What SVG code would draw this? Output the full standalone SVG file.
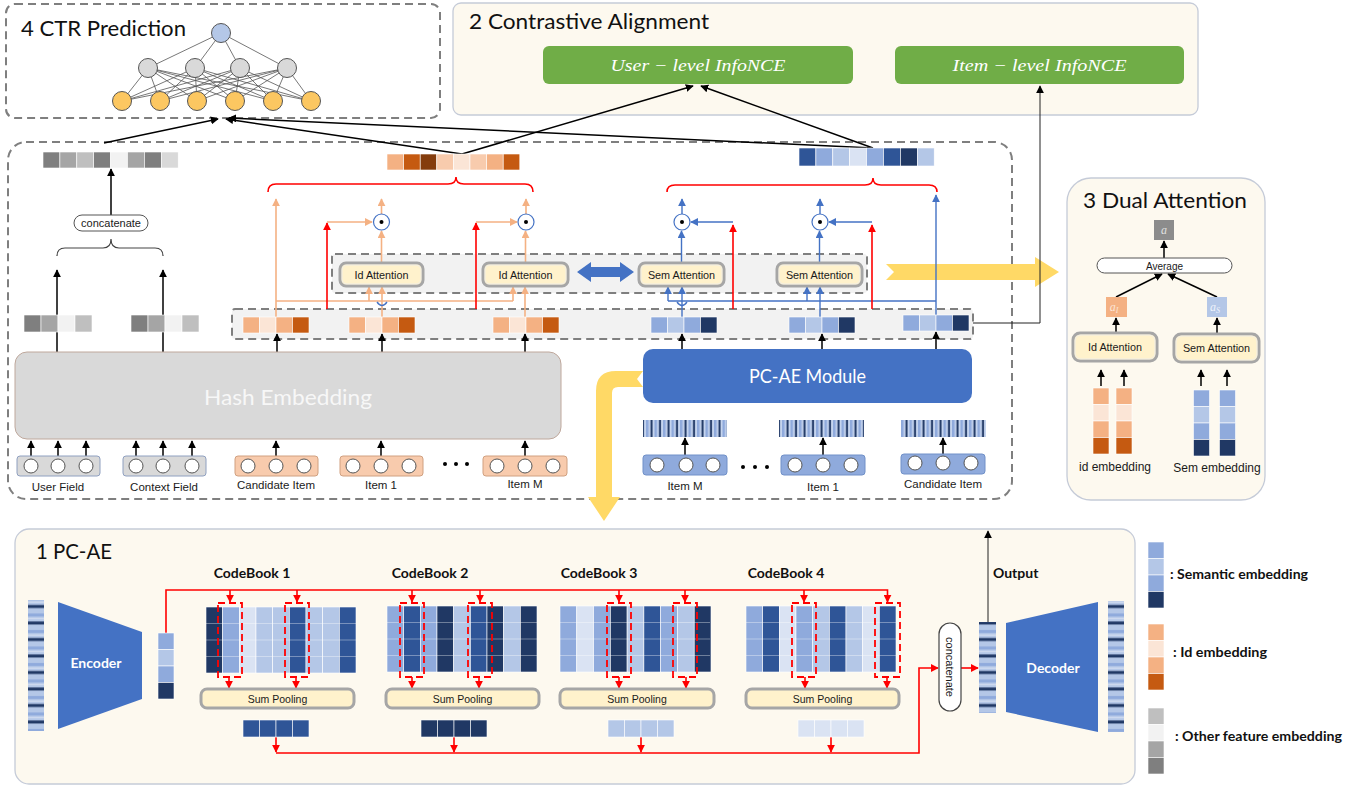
<svg xmlns="http://www.w3.org/2000/svg" width="1367" height="789" viewBox="0 0 1367 789">
<defs>
<style>
.t{font-family:"Liberation Sans",Arial,sans-serif;fill:#1a1a1a}
.c{font-family:Lato,"Open Sans","Liberation Sans",sans-serif}
.title{font-size:21px;fill:#111}
.cb{font-size:14px;font-weight:bold;fill:#111}
.lg{font-size:13.5px;font-weight:bold;fill:#111}
.nce{font-family:"Liberation Serif","DejaVu Serif",serif;font-style:italic;font-size:16px;fill:#fff}
.dash{fill:none;stroke:#7f7f7f;stroke-width:2;stroke-dasharray:8 5}
.dashf{fill:#f2f2f2;stroke:#7f7f7f;stroke-width:2;stroke-dasharray:8 5}
.panel{fill:#fdf9ef;stroke:#c5cbd8;stroke-width:1.3}
.bk{fill:none;stroke:#000;stroke-width:1.5;marker-end:url(#ab)}
.bk1{fill:none;stroke:#222;stroke-width:1;marker-end:url(#ab)}
.or{fill:none;stroke:#f4b183;stroke-width:1.6}
.ora{fill:none;stroke:#f4b183;stroke-width:1.6;marker-end:url(#ao)}
.bl{fill:none;stroke:#4472c4;stroke-width:1.4}
.bla{fill:none;stroke:#4472c4;stroke-width:1.4;marker-end:url(#abl)}
.rd{fill:none;stroke:#f00;stroke-width:1.6}
.rda{fill:none;stroke:#f00;stroke-width:1.6;marker-end:url(#ar)}
.rdash{fill:none;stroke:#f00;stroke-width:1.8;stroke-dasharray:7 4}
.attO{fill:#fff2cc;stroke:#a6a6a6;stroke-width:3}
.attI{fill:none;stroke:#ececec;stroke-width:0.8}
.cell{stroke:#fff;stroke-width:0.6}
.cir{fill:#fff;stroke:#555;stroke-width:1}
.odot{fill:#fff;stroke:#4472c4;stroke-width:1.2}
.nn{stroke:#555;stroke-width:0.8}
.sm{font-size:10.8px}
.lb{font-size:11.5px}
</style>
<marker id="ab" viewBox="0 0 10 10" refX="9" refY="5" markerWidth="8" markerHeight="8" markerUnits="userSpaceOnUse" orient="auto"><path d="M0,0 L10,5 L0,10 z" fill="#000"/></marker>
<marker id="ao" viewBox="0 0 10 10" refX="9" refY="5" markerWidth="8" markerHeight="8" markerUnits="userSpaceOnUse" orient="auto"><path d="M0,0 L10,5 L0,10 z" fill="#f4b183"/></marker>
<marker id="abl" viewBox="0 0 10 10" refX="9" refY="5" markerWidth="8" markerHeight="8" markerUnits="userSpaceOnUse" orient="auto"><path d="M0,0 L10,5 L0,10 z" fill="#4472c4"/></marker>
<marker id="ar" viewBox="0 0 10 10" refX="9" refY="5" markerWidth="8" markerHeight="8" markerUnits="userSpaceOnUse" orient="auto"><path d="M0,0 L10,5 L0,10 z" fill="#f00"/></marker>
<pattern id="vstripe" width="8.5" height="20" patternUnits="userSpaceOnUse"><rect width="8.5" height="20" fill="#c5d4ee"/><rect x="0" width="2.5" height="20" fill="#8faadc"/><rect x="4.5" width="2" height="20" fill="#203864"/></pattern>
<pattern id="hstripe" width="20" height="16.5" patternUnits="userSpaceOnUse"><rect width="20" height="16.5" fill="#b4c7e7"/><rect y="3" width="20" height="3" fill="#8faadc"/><rect y="7.5" width="20" height="1" fill="#dae3f3"/><rect y="11" width="20" height="3" fill="#203864"/></pattern>
<g id="vId4" class="cell"><rect x="0" width="16.5" height="16" fill="#f4b183"/><rect x="16.5" width="16.5" height="16" fill="#fbe5d6"/><rect x="33" width="16.5" height="16" fill="#f4b183"/><rect x="49.5" width="16.5" height="16" fill="#c55a11"/></g>
<g id="vSem4" class="cell"><rect x="0" width="16.5" height="16" fill="#8faadc"/><rect x="16.5" width="16.5" height="16" fill="#b4c7e7"/><rect x="33" width="16.5" height="16" fill="#8faadc"/><rect x="49.5" width="16.5" height="16" fill="#203864"/></g>
<g id="vOth4" class="cell"><rect x="0" width="17" height="17" fill="#7f7f7f"/><rect x="17" width="17" height="17" fill="#a5a5a5"/><rect x="34" width="17" height="17" fill="#f2f2f2"/><rect x="51" width="17" height="17" fill="#bfbfbf"/></g>
<g id="vIdV" class="cell"><rect y="0" width="16" height="16.5" fill="#f4b183"/><rect y="16.5" width="16" height="16.5" fill="#fbe5d6"/><rect y="33" width="16" height="16.5" fill="#f4b183"/><rect y="49.5" width="16" height="16.5" fill="#c55a11"/></g>
<g id="vSemV" class="cell"><rect y="0" width="16" height="16.5" fill="#8faadc"/><rect y="16.5" width="16" height="16.5" fill="#b4c7e7"/><rect y="33" width="16" height="16.5" fill="#8faadc"/><rect y="49.5" width="16" height="16.5" fill="#203864"/></g>
<g id="vOthV" class="cell"><rect y="0" width="16" height="16.5" fill="#bfbfbf"/><rect y="16.5" width="16" height="16.5" fill="#f2f2f2"/><rect y="33" width="16" height="16.5" fill="#a5a5a5"/><rect y="49.5" width="16" height="16.5" fill="#7f7f7f"/></g>
<g id="rows"><path d="M0,16.5 H150 M0,33 H150 M0,49.5 H150" stroke="#fff" stroke-opacity="0.45" stroke-width="0.8"/></g>
</defs>

<rect width="1367" height="789" fill="#fff"/>

<!-- panels -->
<g id="panel-ctr"><rect x="6" y="4" width="434" height="114" rx="9" class="dash"/><text x="21" y="36" class="c title" textLength="165" lengthAdjust="spacingAndGlyphs">4 CTR Prediction</text></g>
<g id="panel-contrastive"><rect x="453" y="3" width="745" height="112" rx="8" class="panel"/><text x="469" y="29" class="c title" textLength="240" lengthAdjust="spacingAndGlyphs">2 Contrastive Alignment</text></g>
<g id="panel-main"><rect x="8" y="142" width="1004" height="357" rx="18" class="dash"/></g>
<g id="panel-dual"><rect x="1067" y="178" width="198" height="322" rx="24" class="panel"/><text x="1083" y="208" class="c title" textLength="164" lengthAdjust="spacingAndGlyphs">3 Dual Attention</text></g>
<g id="panel-pcae"><rect x="15" y="529" width="1120" height="255" rx="14" class="panel"/><text x="36" y="559" class="c title" textLength="76" lengthAdjust="spacingAndGlyphs">1 PC-AE</text></g>

<!-- inner dashed groups -->
<g id="vector-row"><rect x="232" y="309" width="741" height="30" rx="3" class="dashf"/></g>
<g id="attention-row"><rect x="332" y="254" width="535" height="39" rx="3" class="dashf"/></g>

<!-- CTR network -->
<g id="ctr-net">
<g class="nn">
<path d="M221,33 L148,68 M221,33 L195,68 M221,33 L240,68 M221,33 L287,68"/>
<path d="M148,68 L122,101 M148,68 L160,101 M148,68 L197,101 M148,68 L235,101 M148,68 L273,101 M148,68 L311,101"/>
<path d="M195,68 L122,101 M195,68 L160,101 M195,68 L197,101 M195,68 L235,101 M195,68 L273,101 M195,68 L311,101"/>
<path d="M240,68 L122,101 M240,68 L160,101 M240,68 L197,101 M240,68 L235,101 M240,68 L273,101 M240,68 L311,101"/>
<path d="M287,68 L122,101 M287,68 L160,101 M287,68 L197,101 M287,68 L235,101 M287,68 L273,101 M287,68 L311,101"/>
</g>
<circle cx="221" cy="33" r="9.5" fill="#b4c7e7" stroke="#555"/>
<g fill="#d9d9d9" stroke="#555"><circle cx="148" cy="68" r="9.5"/><circle cx="195" cy="68" r="9.5"/><circle cx="240" cy="68" r="9.5"/><circle cx="287" cy="68" r="9.5"/></g>
<g fill="#fcc761" stroke="#555"><circle cx="122" cy="101" r="9.5"/><circle cx="160" cy="101" r="9.5"/><circle cx="197" cy="101" r="9.5"/><circle cx="235" cy="101" r="9.5"/><circle cx="273" cy="101" r="9.5"/><circle cx="311" cy="101" r="9.5"/></g>
</g>

<!-- yellow arrows -->
<g id="yellow-arrows" fill="#ffd966">
<path d="M886,264 L1035,264 L1035,257 L1059,272 L1035,287 L1035,280 L886,280 L894,272 Z"/>
<path d="M643,371 L616,371 Q596,371 596,391 L596,497 L588,497 L604,521 L620,497 L612,497 L612,393 Q612,387 618,387 L643,387 L637,379 Z"/>
</g>

<!-- connectors -->
<g id="connectors">
<path class="bk" d="M104,143 L218,119"/>
<path class="bk" d="M462,154 L226,119"/>
<path class="bk" d="M873,148 L229,118"/>
<path class="bk" d="M462,154 L693,86"/>
<path class="bk" d="M873,148 L701,86"/>
<path class="bk1" d="M973,323 H1040 V86"/>
<path class="bk" d="M57,352 V270"/>
<path class="bk" d="M163,352 V270"/>
<path class="bk" d="M111,215 V169"/>
<path d="M57,256 Q57,248 65,248 L103,248 Q111,248 111,239 Q111,248 119,248 L155,248 Q163,248 163,256" fill="none" stroke="#444" stroke-width="1.2"/>
<path class="rd" d="M268,192 Q268,184 276,184 L448,184 Q456,184 456,177 Q456,184 464,184 L525,184 Q533,184 533,192" stroke-width="1.3"/>
<path class="rd" d="M667,192 Q667,185 675,185 L865,185 Q873,185 873,178 Q873,185 881,185 L929,185 Q937,185 937,192" stroke-width="1.3"/>
<path class="ora" d="M276,317 V199"/>
<path class="or" d="M276,301 H513"/>
<path class="ora" d="M369,301 V287"/>
<path class="ora" d="M513,301 V287"/>
<path class="ora" d="M382,317 V287"/>
<path class="ora" d="M525,317 V287"/>
<path class="ora" d="M381.5,263 V231"/>
<path class="ora" d="M525.5,263 V231"/>
<path class="ora" d="M381.5,214 V199"/>
<path class="ora" d="M526,214 V199"/>
<path class="rda" d="M327,309 V223"/>
<path class="ora" d="M327,222 H372"/>
<path class="rda" d="M476,309 V223"/>
<path class="ora" d="M476,222 H517"/>
<path d="M377,302 Q382,309 387,302" fill="none" stroke="#4472c4" stroke-width="1.3"/>
<path class="bla" d="M936,315 V195"/>
<path class="bl" d="M668,301 H936"/>
<path class="bla" d="M668,301 V287"/>
<path class="bla" d="M807,301 V287"/>
<path class="bla" d="M682,317 V287"/>
<path class="bla" d="M820,317 V287"/>
<path class="bla" d="M681.5,263 V231"/>
<path class="bla" d="M819.5,263 V231"/>
<path class="bla" d="M682,214 V199"/>
<path class="bla" d="M820,214 V199"/>
<path class="rda" d="M733,309 V225"/>
<path class="bla" d="M733,222 H691"/>
<path class="rda" d="M872,309 V225"/>
<path class="bla" d="M872,222 H829"/>
<path d="M677,302 Q682,309 687,302" fill="none" stroke="#4472c4" stroke-width="1.3"/>
<path class="bk" d="M277,352 V334"/>
<path class="bk" d="M382,352 V334"/>
<path class="bk" d="M525,352 V334"/>
<path class="bk" d="M682,349 V334"/>
<path class="bk" d="M822,349 V334"/>
<path class="bk" d="M936,349 V332"/>
<path class="bk" d="M31,459 V441"/><path class="bk" d="M58,459 V441"/><path class="bk" d="M86,459 V441"/>
<path class="bk" d="M136,459 V441"/><path class="bk" d="M163,459 V441"/><path class="bk" d="M192,459 V441"/>
<path class="bk" d="M276,459 V441"/><path class="bk" d="M381,459 V441"/><path class="bk" d="M525,459 V441"/>
<path class="bk" d="M685,457 V438"/><path class="bk" d="M823,457 V438"/><path class="bk" d="M943,457 V438"/>
<path class="bk" d="M1164,258 V241"/>
<path class="bk" d="M1116,297 L1162,274"/>
<path class="bk" d="M1217,297 L1168,274"/>
<path class="bk" d="M1116,333 V318"/>
<path class="bk" d="M1217,334 V318"/>
<path class="bk" d="M1101,386 V370"/><path class="bk" d="M1124,386 V370"/>
<path class="bk" d="M1201,386 V370"/><path class="bk" d="M1227,386 V370"/>
<path class="rda" d="M166,633 V590 H887.5 V602"/>
<path class="rda" d="M230,590 V602"/><path class="rda" d="M297,590 V602"/>
<path class="rda" d="M412,590 V602"/><path class="rda" d="M480,590 V602"/>
<path class="rda" d="M619,590 V602"/><path class="rda" d="M685,590 V602"/>
<path class="rda" d="M804,590 V602"/>
<path class="rda" d="M229,677 V688"/><path class="rda" d="M296,677 V688"/>
<path class="rda" d="M412,677 V688"/><path class="rda" d="M479,677 V688"/>
<path class="rda" d="M619,677 V688"/><path class="rda" d="M686,677 V688"/>
<path class="rda" d="M805,677 V688"/><path class="rda" d="M887,677 V688"/>
<path class="rda" d="M276,737 V752"/><path class="rda" d="M454,737 V752"/>
<path class="rda" d="M641,737 V752"/><path class="rda" d="M831,737 V752"/>
<path class="rda" d="M276,753 H919 V668 H938"/>
<path class="rda" d="M961,668 H978"/>
<path class="bk1" d="M988,622 V531"/>
</g>

<!-- top aggregated vectors -->
<g id="vec-other-concat" class="cell"><rect x="43" y="152" width="16.9" height="16" fill="#7f7f7f"/><rect x="59.9" y="152" width="16.9" height="16" fill="#a5a5a5"/><rect x="76.8" y="152" width="16.9" height="16" fill="#bfbfbf"/><rect x="93.7" y="152" width="16.9" height="16" fill="#7f7f7f"/><rect x="110.6" y="152" width="16.9" height="16" fill="#f2f2f2"/><rect x="127.5" y="152" width="16.9" height="16" fill="#a5a5a5"/><rect x="144.4" y="152" width="16.9" height="16" fill="#7f7f7f"/><rect x="161.3" y="152" width="16.9" height="16" fill="#d9d9d9"/></g>
<g id="vec-id-agg" class="cell"><rect x="387" y="154" width="16.6" height="16" fill="#f4b183"/><rect x="403.6" y="154" width="16.6" height="16" fill="#c55a11"/><rect x="420.2" y="154" width="16.6" height="16" fill="#843c0c"/><rect x="436.8" y="154" width="16.6" height="16" fill="#f8cbad"/><rect x="453.4" y="154" width="16.6" height="16" fill="#fbe5d6"/><rect x="470" y="154" width="16.6" height="16" fill="#f8cbad"/><rect x="486.6" y="154" width="16.6" height="16" fill="#f4b183"/><rect x="503.2" y="154" width="16.6" height="16" fill="#c55a11"/></g>
<g id="vec-sem-agg" class="cell"><rect x="799" y="148" width="16.9" height="18" fill="#2f5597"/><rect x="815.9" y="148" width="16.9" height="18" fill="#8faadc"/><rect x="832.8" y="148" width="16.9" height="18" fill="#b4c7e7"/><rect x="849.7" y="148" width="16.9" height="18" fill="#dae3f3"/><rect x="866.6" y="148" width="16.9" height="18" fill="#8faadc"/><rect x="883.5" y="148" width="16.9" height="18" fill="#2f5597"/><rect x="900.4" y="148" width="16.9" height="18" fill="#203864"/><rect x="917.3" y="148" width="16.9" height="18" fill="#b4c7e7"/></g>

<g id="concat-top"><rect x="74" y="215" width="74" height="16" rx="8" fill="#fff" stroke="#555" stroke-width="1"/><text x="111" y="227" class="t" font-size="11" text-anchor="middle">concatenate</text></g>

<!-- small embedding vectors -->
<g id="vec-user"><use href="#vOth4" x="24" y="315"/></g>
<g id="vec-context"><use href="#vOth4" x="131" y="315"/></g>
<g id="vec-id-cand"><use href="#vId4" x="243" y="317"/></g>
<g id="vec-id-item1"><use href="#vId4" x="349" y="317"/></g>
<g id="vec-id-itemM"><use href="#vId4" x="493" y="317"/></g>
<g id="vec-sem-itemM"><use href="#vSem4" x="651" y="317"/></g>
<g id="vec-sem-item1"><use href="#vSem4" x="789" y="317"/></g>
<g id="vec-sem-cand"><use href="#vSem4" x="903" y="315"/></g>

<!-- attention modules -->
<g id="id-att-1"><rect x="340" y="263" width="83" height="23" rx="6" class="attO"/><rect x="342" y="265" width="79" height="19" rx="5" class="attI"/><text x="381.5" y="278.5" class="t sm" text-anchor="middle">Id Attention</text></g>
<g id="id-att-2"><rect x="483" y="263" width="85" height="23" rx="6" class="attO"/><rect x="485" y="265" width="81" height="19" rx="5" class="attI"/><text x="525.5" y="278.5" class="t sm" text-anchor="middle">Id Attention</text></g>
<g id="sem-att-1"><rect x="639" y="263" width="85" height="23" rx="6" class="attO"/><rect x="641" y="265" width="81" height="19" rx="5" class="attI"/><text x="681.5" y="278.5" class="t sm" text-anchor="middle">Sem Attention</text></g>
<g id="sem-att-2"><rect x="777" y="263" width="85" height="23" rx="6" class="attO"/><rect x="779" y="265" width="81" height="19" rx="5" class="attI"/><text x="819.5" y="278.5" class="t sm" text-anchor="middle">Sem Attention</text></g>
<g id="align-arrow"><path d="M577,272 L591,262 L591,267 L620,267 L620,262 L634,272 L620,282 L620,277 L591,277 L591,282 Z" fill="#4472c4"/></g>

<!-- product nodes -->
<g id="prod-1"><circle cx="381.5" cy="222" r="8" class="odot"/><circle cx="381.5" cy="222" r="2" fill="#000"/></g>
<g id="prod-2"><circle cx="526" cy="222" r="8" class="odot"/><circle cx="526" cy="222" r="2" fill="#000"/></g>
<g id="prod-3"><circle cx="682" cy="222" r="8" class="odot"/><circle cx="682" cy="222" r="2" fill="#000"/></g>
<g id="prod-4"><circle cx="820" cy="222" r="8" class="odot"/><circle cx="820" cy="222" r="2" fill="#000"/></g>

<!-- InfoNCE -->
<g id="user-infonce"><rect x="543" y="46" width="310" height="38" rx="6" fill="#70ad47"/><text x="698" y="71" class="nce" text-anchor="middle" textLength="175" lengthAdjust="spacingAndGlyphs">User − level InfoNCE</text></g>
<g id="item-infonce"><rect x="895" y="46" width="289" height="38" rx="6" fill="#70ad47"/><text x="1039.5" y="71" class="nce" text-anchor="middle" textLength="174" lengthAdjust="spacingAndGlyphs">Item − level InfoNCE</text></g>

<!-- embedding modules -->
<g id="hash-embedding"><rect x="15" y="352" width="546" height="87" rx="12" fill="#d9d9d9" stroke="#bfa89c" stroke-width="1"/><text x="204" y="405" class="c" font-size="22" fill="#f7f7f7" textLength="168" lengthAdjust="spacingAndGlyphs">Hash Embedding</text></g>
<g id="pcae-module"><rect x="643" y="349" width="329" height="54" rx="10" fill="#4472c4"/><text x="749" y="383" class="c" font-size="19" fill="#fff" textLength="117" lengthAdjust="spacingAndGlyphs">PC-AE Module</text></g>

<!-- input fields -->
<g id="user-field"><rect x="17" y="456" width="83" height="20" rx="3" fill="#d9d9d9" stroke="#8fa0c0"/><circle cx="31" cy="466" r="7" class="cir"/><circle cx="58" cy="466" r="7" class="cir"/><circle cx="86" cy="466" r="7" class="cir"/><text x="58" y="491" class="t lb" text-anchor="middle">User Field</text></g>
<g id="context-field"><rect x="123" y="456" width="83" height="20" rx="3" fill="#d9d9d9" stroke="#8fa0c0"/><circle cx="136" cy="466" r="7" class="cir"/><circle cx="163" cy="466" r="7" class="cir"/><circle cx="192" cy="466" r="7" class="cir"/><text x="164" y="491" class="t lb" text-anchor="middle">Context Field</text></g>
<g id="candidate-item-id"><rect x="235" y="456" width="83" height="20" rx="3" fill="#f8cbad" stroke="#d0a080"/><circle cx="248" cy="466" r="7" class="cir"/><circle cx="276" cy="466" r="7" class="cir"/><circle cx="304" cy="466" r="7" class="cir"/><text x="276" y="489" class="t lb" text-anchor="middle">Candidate Item</text></g>
<g id="item1-id"><rect x="340" y="456" width="83" height="20" rx="3" fill="#f8cbad" stroke="#d0a080"/><circle cx="353" cy="466" r="7" class="cir"/><circle cx="381" cy="466" r="7" class="cir"/><circle cx="409" cy="466" r="7" class="cir"/><text x="381" y="489" class="t lb" text-anchor="middle">Item 1</text></g>
<g id="dots-id" fill="#000"><circle cx="445" cy="464" r="2"/><circle cx="456" cy="464" r="2"/><circle cx="467" cy="464" r="2"/></g>
<g id="itemM-id"><rect x="483" y="456" width="84" height="20" rx="3" fill="#f8cbad" stroke="#d0a080"/><circle cx="497" cy="466" r="7" class="cir"/><circle cx="525" cy="466" r="7" class="cir"/><circle cx="553" cy="466" r="7" class="cir"/><text x="525" y="488" class="t lb" text-anchor="middle">Item M</text></g>

<g id="itemM-sem"><rect x="643" y="420" width="84" height="17" fill="url(#vstripe)"/><rect x="643" y="455" width="84" height="20" rx="3" fill="#8faadc" stroke="#7090c8"/><circle cx="657" cy="465" r="7" class="cir"/><circle cx="686" cy="465" r="7" class="cir"/><circle cx="713" cy="465" r="7" class="cir"/><text x="685" y="490" class="t lb" text-anchor="middle">Item M</text></g>
<g id="dots-sem" fill="#000"><circle cx="743" cy="467" r="2"/><circle cx="755" cy="467" r="2"/><circle cx="767" cy="467" r="2"/></g>
<g id="item1-sem"><rect x="779" y="420" width="85" height="17" fill="url(#vstripe)"/><rect x="781" y="455" width="84" height="20" rx="3" fill="#8faadc" stroke="#7090c8"/><circle cx="795" cy="465" r="7" class="cir"/><circle cx="823" cy="465" r="7" class="cir"/><circle cx="851" cy="465" r="7" class="cir"/><text x="823" y="491" class="t lb" text-anchor="middle">Item 1</text></g>
<g id="candidate-item-sem"><rect x="901" y="420" width="85" height="17" fill="url(#vstripe)"/><rect x="901" y="454" width="84" height="20" rx="3" fill="#8faadc" stroke="#7090c8"/><circle cx="915" cy="463" r="7" class="cir"/><circle cx="943" cy="463" r="7" class="cir"/><circle cx="971" cy="463" r="7" class="cir"/><text x="943" y="488" class="t lb" text-anchor="middle">Candidate Item</text></g>

<!-- Dual attention -->
<g id="da-a"><rect x="1154" y="220" width="20" height="20" fill="#8c8c8c"/><text x="1164" y="234" font-family="Liberation Serif,serif" font-style="italic" font-size="12" fill="#e0e0e0" text-anchor="middle">a</text></g>
<g id="da-average"><rect x="1097" y="258" width="135" height="15" rx="7.5" fill="#fff" stroke="#555"/><text x="1164.5" y="269.5" class="t" font-size="10" text-anchor="middle">Average</text></g>
<g id="da-aI"><rect x="1106" y="297" width="21" height="20" fill="#f4b183"/><text x="1114" y="311" font-family="Liberation Serif,serif" font-style="italic" font-size="12" fill="#fbe5d6" text-anchor="middle">a<tspan font-size="8" dy="2">I</tspan></text></g>
<g id="da-aS"><rect x="1207" y="297" width="20" height="20" fill="#b4c7e7"/><text x="1215" y="311" font-family="Liberation Serif,serif" font-style="italic" font-size="12" fill="#eef2fa" text-anchor="middle">a<tspan font-size="8" dy="2">S</tspan></text></g>
<g id="da-id-att"><rect x="1073" y="333" width="84" height="28" rx="7" class="attO"/><rect x="1075" y="335" width="80" height="24" rx="6" class="attI"/><text x="1115" y="351" class="t sm" text-anchor="middle">Id Attention</text></g>
<g id="da-sem-att"><rect x="1174" y="334" width="85" height="28" rx="7" class="attO"/><rect x="1176" y="336" width="81" height="24" rx="6" class="attI"/><text x="1216.5" y="352" class="t sm" text-anchor="middle">Sem Attention</text></g>
<g id="da-id-emb"><use href="#vIdV" x="1093" y="388"/><use href="#vIdV" x="1116" y="388"/><text x="1115" y="471" class="t" font-size="12" text-anchor="middle">id embedding</text></g>
<g id="da-sem-emb"><use href="#vSemV" x="1193.5" y="390"/><use href="#vSemV" x="1219.5" y="390"/><text x="1217" y="472" class="t" font-size="12" text-anchor="middle">Sem embedding</text></g>

<!-- PC-AE -->
<g id="encoder-input"><rect x="28" y="600" width="16" height="131" fill="url(#hstripe)"/></g>
<g id="encoder"><polygon points="58,602 142,632 142,699 58,729" fill="#4472c4"/><text x="96" y="668" class="c" font-size="14" font-weight="bold" fill="#fff" text-anchor="middle">Encoder</text></g>
<g id="encoded-vector"><g class="cell"><rect x="158" y="633" width="16" height="16.5" fill="#8faadc"/><rect x="158" y="649.5" width="16" height="16.5" fill="#b4c7e7"/><rect x="158" y="666" width="16" height="16.5" fill="#8faadc"/><rect x="158" y="682.5" width="16" height="16.5" fill="#203864"/></g></g>

<g id="codebook-1"><text x="252" y="578" class="c cb" text-anchor="middle">CodeBook 1</text>
<g transform="translate(206,607)" class="cell"><rect x="0" width="16.67" height="66" fill="#203864"/><rect x="16.67" width="16.67" height="66" fill="#8faadc"/><rect x="33.33" width="16.67" height="66" fill="#dae3f3"/><rect x="50" width="16.67" height="66" fill="#b4c7e7"/><rect x="66.67" width="16.67" height="66" fill="#b4c7e7"/><rect x="83.33" width="16.67" height="66" fill="#2f5597"/><rect x="100" width="16.67" height="66" fill="#b4c7e7"/><rect x="116.67" width="16.67" height="66" fill="#b4c7e7"/><rect x="133.33" width="16.67" height="66" fill="#2f5597"/><use href="#rows"/></g>
<rect x="218" y="603" width="24" height="74" class="rdash"/><rect x="285" y="603" width="24" height="74" class="rdash"/>
<rect x="201" y="689" width="153" height="19" rx="6" class="attO"/><text x="277.5" y="702.5" class="t" font-size="10.5" text-anchor="middle">Sum Pooling</text>
<g class="cell"><rect x="243" y="720" width="16.5" height="17" fill="#2f5597"/><rect x="259.5" y="720" width="16.5" height="17" fill="#2f5597"/><rect x="276" y="720" width="16.5" height="17" fill="#2f5597"/><rect x="292.5" y="720" width="16.5" height="17" fill="#2f5597"/></g></g>

<g id="codebook-2"><text x="430" y="578" class="c cb" text-anchor="middle">CodeBook 2</text>
<g transform="translate(387,606)" class="cell"><rect x="0" width="16.67" height="66" fill="#8faadc"/><rect x="16.67" width="16.67" height="66" fill="#2f5597"/><rect x="33.33" width="16.67" height="66" fill="#8faadc"/><rect x="50" width="16.67" height="66" fill="#203864"/><rect x="66.67" width="16.67" height="66" fill="#b4c7e7"/><rect x="83.33" width="16.67" height="66" fill="#2f5597"/><rect x="100" width="16.67" height="66" fill="#203864"/><rect x="116.67" width="16.67" height="66" fill="#b4c7e7"/><rect x="133.33" width="16.67" height="66" fill="#203864"/><use href="#rows"/></g>
<rect x="400" y="603" width="24" height="74" class="rdash"/><rect x="468" y="603" width="24" height="74" class="rdash"/>
<rect x="386" y="689" width="153" height="19" rx="6" class="attO"/><text x="462.5" y="702.5" class="t" font-size="10.5" text-anchor="middle">Sum Pooling</text>
<g class="cell"><rect x="421" y="720" width="16.5" height="17" fill="#203864"/><rect x="437.5" y="720" width="16.5" height="17" fill="#203864"/><rect x="454" y="720" width="16.5" height="17" fill="#203864"/><rect x="470.5" y="720" width="16.5" height="17" fill="#203864"/></g></g>

<g id="codebook-3"><text x="599" y="578" class="c cb" text-anchor="middle">CodeBook 3</text>
<g transform="translate(560,606)" class="cell"><rect x="0" width="16.78" height="66" fill="#8faadc"/><rect x="16.78" width="16.78" height="66" fill="#dae3f3"/><rect x="33.56" width="16.78" height="66" fill="#8faadc"/><rect x="50.33" width="16.78" height="66" fill="#203864"/><rect x="67.11" width="16.78" height="66" fill="#b4c7e7"/><rect x="83.89" width="16.78" height="66" fill="#2f5597"/><rect x="100.67" width="16.78" height="66" fill="#8faadc"/><rect x="117.44" width="16.78" height="66" fill="#b4c7e7"/><rect x="134.22" width="16.78" height="66" fill="#203864"/><use href="#rows"/></g>
<rect x="607" y="603" width="24" height="74" class="rdash"/><rect x="673" y="603" width="24" height="74" class="rdash"/>
<rect x="560" y="689" width="154" height="19" rx="6" class="attO"/><text x="637" y="702.5" class="t" font-size="10.5" text-anchor="middle">Sum Pooling</text>
<g class="cell"><rect x="608" y="720" width="16.5" height="17" fill="#b4c7e7"/><rect x="624.5" y="720" width="16.5" height="17" fill="#b4c7e7"/><rect x="641" y="720" width="16.5" height="17" fill="#b4c7e7"/><rect x="657.5" y="720" width="16.5" height="17" fill="#b4c7e7"/></g></g>

<g id="codebook-4"><text x="786" y="578" class="c cb" text-anchor="middle">CodeBook 4</text>
<g transform="translate(746,606)" class="cell"><rect x="0" width="16.67" height="66" fill="#8faadc"/><rect x="16.67" width="16.67" height="66" fill="#2f5597"/><rect x="33.33" width="16.67" height="66" fill="#dae3f3"/><rect x="50" width="16.67" height="66" fill="#8faadc"/><rect x="66.67" width="16.67" height="66" fill="#b4c7e7"/><rect x="83.33" width="16.67" height="66" fill="#2f5597"/><rect x="100" width="16.67" height="66" fill="#b4c7e7"/><rect x="116.67" width="16.67" height="66" fill="#dae3f3"/><rect x="133.33" width="16.67" height="66" fill="#2f5597"/><use href="#rows"/></g>
<rect x="792" y="603" width="24" height="74" class="rdash"/><rect x="875" y="603" width="25" height="74" class="rdash"/>
<rect x="746" y="689" width="153" height="19" rx="6" class="attO"/><text x="822.5" y="702.5" class="t" font-size="10.5" text-anchor="middle">Sum Pooling</text>
<g class="cell"><rect x="798" y="720" width="16.5" height="17" fill="#dae3f3"/><rect x="814.5" y="720" width="16.5" height="17" fill="#dae3f3"/><rect x="831" y="720" width="16.5" height="17" fill="#dae3f3"/><rect x="847.5" y="720" width="16.5" height="17" fill="#dae3f3"/></g></g>

<g id="concat-pcae"><rect x="939" y="623" width="22" height="88" rx="11" fill="#fff" stroke="#444" stroke-width="1.2"/><text x="950" y="667" class="t" font-size="11" text-anchor="middle" transform="rotate(90 950 667)" dy="4">concatenate</text></g>
<g id="output-vector"><rect x="979" y="622" width="17" height="91" fill="url(#hstripe)"/><text x="993" y="578" class="c cb">Output</text></g>
<g id="decoder"><polygon points="1006,623 1098,602 1098,732 1006,712" fill="#4472c4"/><text x="1053" y="673" class="c" font-size="14" font-weight="bold" fill="#fff" text-anchor="middle">Decoder</text></g>
<g id="decoder-output"><rect x="1108" y="601" width="16" height="131" fill="url(#hstripe)"/></g>

<!-- legend -->
<g id="legend-semantic"><use href="#vSemV" x="1148" y="542"/><text x="1170" y="579" class="c lg" textLength="138" lengthAdjust="spacingAndGlyphs">: Semantic embedding</text></g>
<g id="legend-id"><use href="#vIdV" x="1148" y="624"/><text x="1173" y="657" class="c lg" textLength="94" lengthAdjust="spacingAndGlyphs">: Id embedding</text></g>
<g id="legend-other"><use href="#vOthV" x="1148" y="708"/><text x="1175" y="741" class="c lg" textLength="167" lengthAdjust="spacingAndGlyphs">: Other feature embedding</text></g>
</svg>
